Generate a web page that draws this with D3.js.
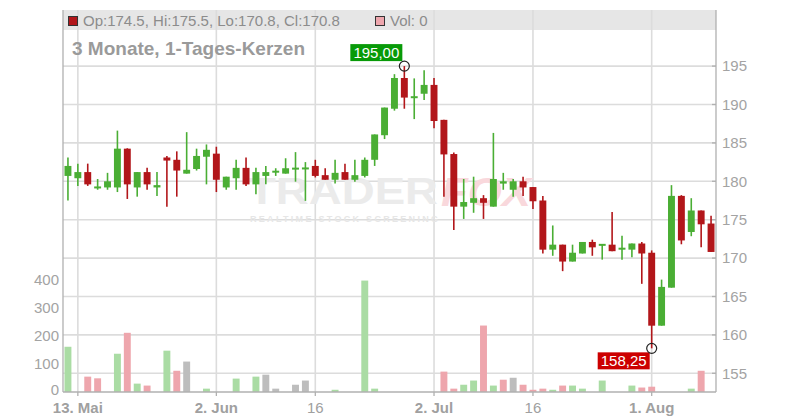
<!DOCTYPE html>
<html><head><meta charset="utf-8">
<script src="https://cdn.jsdelivr.net/npm/d3@7"></script>
<style>body{margin:0;background:#fff}svg{display:block;font-family:"Liberation Sans",Arial,Helvetica,sans-serif}</style>
</head><body><svg id="c" width="800" height="420"></svg>
<script>
// ---- data ----
const opens  = [180.7,180.4,181.2,179.1,179.2,179.2,184.25,179.2,181.2,179.2,183.1,182.8,181.0,181.6,183.2,183.6,179.2,180.4,181.75,179.6,180.7,181.2,181.0,181.6,181.65,182.0,180.8,180.2,181.2,180.2,180.7,182.8,186.0,189.45,193.45,190.9,191.4,192.55,188.0,183.55,176.7,177.2,177.8,176.7,179.7,178.9,180.0,179.25,177.5,171.1,171.75,169.55,170.6,172.1,171.7,171.75,171.2,171.1,171.9,170.7,161.2,166.15,178.1,173.4,176.2,174.5];
const highs  = [183.1,182.3,182.3,180.3,181.1,186.6,184.3,181.2,181.75,181.2,183.3,183.9,186.4,184.25,184.8,184.5,180.6,182.8,183.1,181.75,182.0,181.7,183.0,183.8,182.5,182.8,181.7,182.8,182.3,182.8,183.1,186.1,189.6,193.95,195.0,193.4,194.45,193.45,188.0,183.75,180.3,180.6,178.2,186.3,181.1,180.3,180.6,179.25,178.1,174.25,171.75,171.75,172.1,172.4,171.75,176.0,172.9,171.9,172.1,171.0,167.2,179.5,178.2,177.8,176.2,175.5];
const lows   = [177.5,179.4,179.4,178.9,178.9,178.6,177.7,178.0,178.9,178.1,176.7,178.0,181.0,181.4,179.6,178.6,178.9,178.9,179.4,178.3,179.6,180.7,181.0,179.95,177.45,180.5,180.2,179.7,180.2,179.95,180.5,182.0,185.5,189.2,189.45,188.1,190.6,186.9,178.0,173.65,175.1,175.9,175.1,176.7,178.9,178.0,178.1,176.4,170.6,170.3,168.3,169.55,170.6,170.3,169.8,170.9,169.8,170.1,166.65,158.25,161.2,166.15,171.8,172.85,171.4,170.8];
const closes = [182.0,181.2,179.6,179.3,180.0,184.25,179.6,181.2,179.6,179.5,182.7,181.4,181.5,183.3,184.1,180.2,180.6,181.75,179.6,181.2,181.2,181.3,181.7,181.7,181.7,180.7,180.2,181.1,180.2,180.8,182.8,186.1,189.6,193.45,190.9,191.0,192.55,187.85,183.5,176.7,177.3,177.8,177.2,180.3,180.0,180.0,179.2,177.4,171.1,171.75,169.55,170.7,172.1,171.4,171.75,170.9,171.25,171.9,170.6,161.2,166.25,178.1,172.3,176.2,174.4,170.8];
const volumes = [162,0,55,49,0,137,212,30,23,0,148,76,109,0,12,0,0,48,0,55,62,12,0,26,41,0,0,8,0,0,399,12,0,0,0,0,0,0,73,12,26,41,238,23,44,51,26,8,12,8,23,23,12,0,41,0,0,23,16,19,0,0,0,12,76,0];
// volume direction vs previous close: u = up, d = down, n = unchanged
const volDir = ["u","u","d","d","u","u","d","u","d","u","u","d","n","u","u","d","u","u","d","u","n","n","u","n","n","d","d","u","d","u","u","u","u","u","d","u","u","d","d","d","u","u","d","u","d","n","d","d","d","u","d","u","u","d","u","d","u","u","d","d","u","u","d","u","d","d"];
const priceTicks = [155,160,165,170,175,180,185,190,195];
const volTicks = [0,100,200,300,400];
const tickDates  = ["2025-05-13","2025-06-02","2025-06-16","2025-07-02","2025-07-16","2025-08-01"];
const tickLabels = ["13. Mai","2. Jun","16","2. Jul","16","1. Aug"];
const tickBold   = [true,true,false,true,false,true];
const titleText = "3 Monate, 1-Tages-Kerzen";

// trading days (weekdays) 12 May 2025 .. 11 Aug 2025
const fmt = d3.timeFormat("%Y-%m-%d");
const dates = d3.timeDay.range(new Date(2025,4,12), new Date(2025,7,12))
  .filter(d => d.getDay() !== 0 && d.getDay() !== 6).map(fmt);

const data = dates.map((d,i)=>({d, o:opens[i], h:highs[i], l:lows[i], c:closes[i], v:volumes[i], vd:volDir[i]}));

// ---- layout ----
const L=63, R=716, T=10, B=392;
const svg = d3.select("#c");
const x = d3.scaleBand().domain(dates).range([L,R]).paddingInner(0.3).paddingOuter(0.15);
const y = d3.scaleLinear().domain([155,195]).range([373.3,66.1]);
const yv = d3.scaleLinear().domain([0,400]).range([B,280.3]);
const cx = d => x(d) + x.bandwidth()/2;

const GREEN="#4aae34", RED="#b2161a";
const VCOL={u:"#aadca4", d:"#eea6ad", n:"#bdbdbd"};

// header band
svg.append("rect").attr("x",L).attr("y",T).attr("width",R-L).attr("height",20).attr("fill","#e6e6e6");

// gridlines
const grid = svg.append("g").attr("stroke","#dcdcdc").attr("stroke-width",1.6);
grid.selectAll(".h").data(priceTicks).join("line")
  .attr("x1",L).attr("x2",R).attr("y1",d=>y(d)).attr("y2",d=>y(d));
grid.selectAll(".v").data(tickDates).join("line")
  .attr("x1",d=>cx(d)).attr("x2",d=>cx(d)).attr("y1",T).attr("y2",B);

// watermark
const wm = svg.append("g").attr("pointer-events","none");
wm.append("text").attr("x",248).attr("y",204).attr("font-size",37).attr("font-weight","bold")
  .attr("textLength",190).attr("lengthAdjust","spacingAndGlyphs").attr("fill","#ebebeb").text("TRADER");
wm.append("text").attr("x",441).attr("y",206).attr("font-size",40).attr("font-weight","bold").attr("font-style","italic")
  .attr("textLength",90).attr("lengthAdjust","spacingAndGlyphs").attr("fill","#f9d8dc").text("FOX");
wm.append("text").attr("x",250).attr("y",222).attr("font-size",9).attr("font-weight","bold")
  .attr("textLength",188).attr("lengthAdjust","spacing").attr("fill","#e6e6e6").text("REALTIME STOCK SCREENING");

// volume bars
svg.append("g").selectAll("rect").data(data.filter(d=>d.v>0)).join("rect")
  .attr("x",d=>x(d.d)).attr("width",x.bandwidth())
  .attr("y",d=>yv(d.v)).attr("height",d=>yv(0)-yv(d.v))
  .attr("fill",d=>VCOL[d.vd]);

// candles
const cg = svg.append("g").selectAll("g").data(data).join("g");
cg.append("line").attr("x1",d=>cx(d.d)).attr("x2",d=>cx(d.d))
  .attr("y1",d=>y(d.h)).attr("y2",d=>y(d.l))
  .attr("stroke",d=>d.c>=d.o?GREEN:RED).attr("stroke-width",1.6);
cg.append("rect").attr("x",d=>x(d.d)).attr("width",x.bandwidth())
  .attr("y",d=>{const t=y(Math.max(d.o,d.c)), b=y(Math.min(d.o,d.c)); return b-t<2 ? (t+b)/2-1 : t;})
  .attr("height",d=>Math.max(2, y(Math.min(d.o,d.c))-y(Math.max(d.o,d.c))))
  .attr("fill",d=>d.c>=d.o?GREEN:RED);

// axes lines
const ax = svg.append("g").attr("stroke","#b0b0b0").attr("stroke-width",1.3);
ax.append("line").attr("x1",L).attr("x2",L).attr("y1",T).attr("y2",B);
ax.append("line").attr("x1",R).attr("x2",R).attr("y1",T).attr("y2",B);
ax.append("line").attr("x1",L).attr("x2",R).attr("y1",B).attr("y2",B);
ax.selectAll(".pt").data(priceTicks).join("line").attr("x1",R-4).attr("x2",R).attr("y1",d=>y(d)).attr("y2",d=>y(d));
ax.selectAll(".xt").data(tickDates).join("line").attr("x1",d=>cx(d)).attr("x2",d=>cx(d)).attr("y1",B).attr("y2",B+4);

// price labels
svg.append("g").selectAll("text").data(priceTicks).join("text")
  .attr("x",722).attr("y",d=>y(d)).attr("dy","0.35em").attr("font-size",15).attr("fill","#a3a3a3").text(d=>d);
// volume labels
svg.append("g").selectAll("text").data(volTicks).join("text")
  .attr("x",59).attr("y",d=>d===0 ? yv(d)-1.5 : yv(d)).attr("dy","0.32em").attr("text-anchor","end").attr("font-size",15).attr("fill","#a3a3a3").text(d=>d);
// x labels
svg.append("g").selectAll("text").data(tickDates).join("text")
  .attr("x",d=>cx(d)).attr("y",413).attr("text-anchor","middle").attr("font-size",15)
  .attr("font-weight",(d,i)=>tickBold[i]?"bold":"normal").attr("fill","#a0a0a0").text((d,i)=>tickLabels[i]);

// legend header
const last = data[data.length-1];
svg.append("rect").attr("x",68.5).attr("y",16.5).attr("width",9).attr("height",9).attr("fill",last.c>=last.o?GREEN:RED).attr("stroke","#333");
svg.append("text").attr("x",83).attr("y",26).attr("font-size",15).attr("fill","#8c8c8c")
  .text(`Op:${last.o}, Hi:${last.h}, Lo:${last.l}, Cl:${last.c}`);
svg.append("rect").attr("x",375.5).attr("y",16.5).attr("width",9).attr("height",9).attr("fill",VCOL[last.vd]).attr("stroke","#333");
svg.append("text").attr("x",390).attr("y",26).attr("font-size",15).attr("fill","#8c8c8c").text(`Vol: ${last.v}`);

// title
svg.append("text").attr("x",72).attr("y",55).attr("font-size",19).attr("font-weight","bold").attr("fill","#9a9a9a").text(titleText);

// max / min annotations
const fmtP = v => v.toFixed(2).replace(".",",");
const maxD = data.reduce((a,b)=>b.h>a.h?b:a), minD = data.reduce((a,b)=>b.l<a.l?b:a);
function anno(d, val, up, col){
  const px = cx(d.d), py = y(val);
  const w = 52, h = 17;
  const bx = px - w - 2, by = up ? py - h - 5 : py + 4;
  svg.append("rect").attr("x",bx).attr("y",by).attr("width",w).attr("height",h).attr("fill",col);
  svg.append("text").attr("x",bx+w/2).attr("y",by+h/2).attr("dy","0.36em").attr("text-anchor","middle")
    .attr("font-size",15).attr("fill","#fff").text(fmtP(val));
  svg.append("circle").attr("cx",px).attr("cy",py).attr("r",5).attr("fill","none").attr("stroke","#222").attr("stroke-width",1.2);
}
anno(maxD, maxD.h, true, "#089a08");
anno(minD, minD.l, false, "#cc0000");
</script></body></html>
